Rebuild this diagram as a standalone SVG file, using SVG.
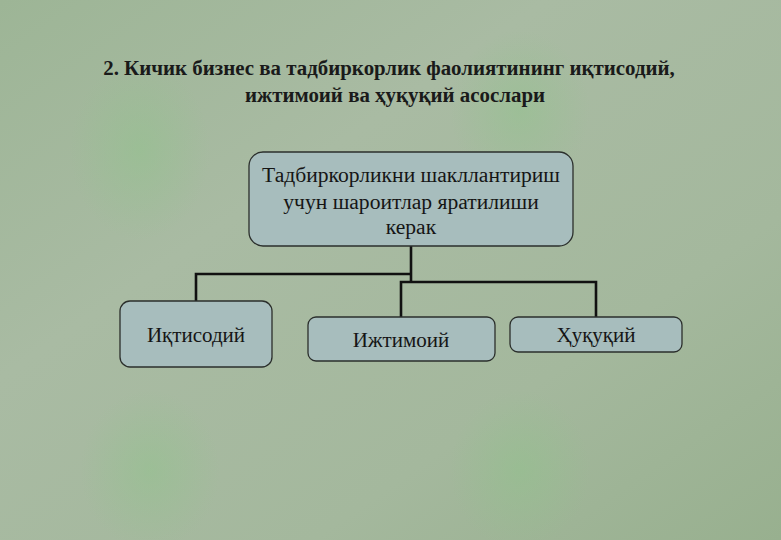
<svg xmlns="http://www.w3.org/2000/svg" width="781" height="540" viewBox="0 0 781 540">
<defs>
<style>
.node rect{fill:#a7bdbd;stroke:#2b2f2c;stroke-width:1.3}
.t{font-family:"Liberation Serif",serif;fill:#151515;text-anchor:middle}
.lab{font-size:21px}
.big{font-size:21.6px}
.title{font-size:20.9px;font-weight:bold;fill:#1a1a1a}
#connectors path{fill:none;stroke:#111;stroke-width:2.6}
</style>
<linearGradient id="bg" x1="0" y1="0" x2="1" y2="1">
<stop offset="0" stop-color="#9db596"/>
<stop offset="0.35" stop-color="#a9bba3"/>
<stop offset="0.7" stop-color="#a4b89d"/>
<stop offset="1" stop-color="#98b08f"/>
</linearGradient>
<radialGradient id="g1" cx="0.5" cy="0.5" r="0.5">
<stop offset="0" stop-color="#8fc48a" stop-opacity="0.45"/>
<stop offset="1" stop-color="#8fc48a" stop-opacity="0"/>
</radialGradient>
</defs>
<rect width="781" height="540" fill="url(#bg)"/>
<ellipse cx="140" cy="150" rx="70" ry="90" fill="url(#g1)"/>
<ellipse cx="520" cy="110" rx="70" ry="80" fill="url(#g1)"/>
<ellipse cx="150" cy="470" rx="70" ry="80" fill="url(#g1)"/>
<ellipse cx="520" cy="470" rx="70" ry="80" fill="url(#g1)"/>
<text class="t title" x="389" y="75">2. Кичик бизнес ва тадбиркорлик фаолиятининг иқтисодий,</text>
<text class="t title" x="395" y="102">ижтимоий ва ҳуқуқий асослари</text>
<g id="connectors">
<path d="M411 246V282"/>
<path d="M411 274H196V301"/>
<path d="M401 317V282H596V317"/>
</g>
<g id="n0" class="node">
<rect x="249" y="152" width="324" height="94" rx="14"/>
<text class="t big" x="411" y="182">Тадбиркорликни шакллантириш</text>
<text class="t big" x="411" y="209">учун шароитлар яратилиши</text>
<text class="t big" x="411" y="234">керак</text>
</g>
<g id="n1" class="node">
<rect x="120" y="301" width="152" height="66" rx="10"/>
<text class="t lab" x="196" y="342">Иқтисодий</text>
</g>
<g id="n2" class="node">
<rect x="308" y="317" width="187" height="44" rx="8"/>
<text class="t lab" x="401" y="347">Ижтимоий</text>
</g>
<g id="n3" class="node">
<rect x="510" y="317" width="172" height="35" rx="8"/>
<text class="t lab" x="596" y="342">Ҳуқуқий</text>
</g>
</svg>
